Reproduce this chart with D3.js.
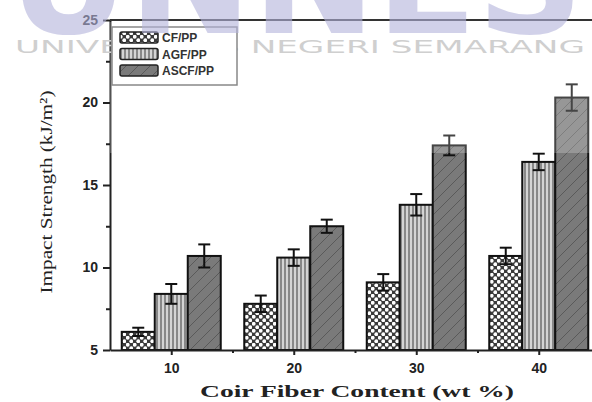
<!DOCTYPE html>
<html>
<head>
<meta charset="utf-8">
<script src="https://cdn.jsdelivr.net/npm/d3@7"></script>
<style>
  body { margin: 0; background: #fff; }
  svg { display: block; }
</style>
</head>
<body>
<svg id="chart" width="592" height="402"></svg>
<script>
// data
const contents = [10, 20, 30, 40];
const seriesNames = ['CF/PP', 'AGF/PP', 'ASCF/PP'];
const cfValues = [6.1, 7.8, 9.1, 10.7];
const cfErrors = [0.25, 0.5, 0.5, 0.5];
const agfValues = [8.4, 10.6, 13.8, 16.4];
const agfErrors = [0.6, 0.5, 0.65, 0.5];
const ascfValues = [10.7, 12.5, 17.4, 20.3];
const ascfErrors = [0.7, 0.4, 0.6, 0.8];
const yTicks = [5, 10, 15, 20, 25];
const yMinorTicks = [7.5, 12.5, 17.5, 22.5];
const xTicks = [10, 20, 30, 40];
const xMinorTicks = [15, 25, 35];

const series = [
  { name: seriesNames[0], values: cfValues, errors: cfErrors, fill: 'url(#pCF)' },
  { name: seriesNames[1], values: agfValues, errors: agfErrors, fill: 'url(#pAGF)' },
  { name: seriesNames[2], values: ascfValues, errors: ascfErrors, fill: 'url(#pASCF)' }
];

const svg = d3.select('#chart');
const defs = svg.append('defs');

// patronen voor de staven
const pCF = defs.append('pattern').attr('id', 'pCF').attr('patternUnits', 'userSpaceOnUse')
  .attr('width', 7).attr('height', 7);
pCF.append('rect').attr('width', 7).attr('height', 7).attr('fill', '#3a3a3a');
pCF.append('circle').attr('cx', 1.75).attr('cy', 1.75).attr('r', 1.9).attr('fill', '#fff');
pCF.append('circle').attr('cx', 5.25).attr('cy', 5.25).attr('r', 1.9).attr('fill', '#fff');

const pAGF = defs.append('pattern').attr('id', 'pAGF').attr('patternUnits', 'userSpaceOnUse')
  .attr('width', 4).attr('height', 4);
pAGF.append('rect').attr('width', 4).attr('height', 4).attr('fill', '#d4d4d4');
pAGF.append('line').attr('x1', 1).attr('x2', 1).attr('y1', 0).attr('y2', 4)
  .attr('stroke', '#555').attr('stroke-width', 1.2);

const pASCF = defs.append('pattern').attr('id', 'pASCF').attr('patternUnits', 'userSpaceOnUse')
  .attr('width', 12).attr('height', 12);
pASCF.append('rect').attr('width', 12).attr('height', 12).attr('fill', '#7a7a7a');
pASCF.append('path').attr('d', 'M0,12 L12,0 M-3,3 L3,-3 M9,15 L15,9')
  .attr('stroke', '#5a5a5a').attr('stroke-width', 1);

const x = d3.scaleLinear().domain([5, 45]).range([110, 600]);
const y = d3.scaleLinear().domain([5, 25]).range([350, 20]);
const barW = 33;

// staven
const g = svg.append('g');
series.forEach((s, i) => {
  const off = (i - 1) * barW;
  g.selectAll('.bar' + i)
    .data(contents)
    .join('rect')
    .attr('x', (d) => x(d) + off - barW / 2)
    .attr('y', (d, j) => y(s.values[j]))
    .attr('width', barW)
    .attr('height', (d, j) => y(5) - y(s.values[j]))
    .attr('fill', s.fill)
    .attr('stroke', '#111')
    .attr('stroke-width', 2);

  // foutbalken
  contents.forEach((c, j) => {
    const cx = x(c) + off;
    const lo = y(s.values[j] - s.errors[j]);
    const hi = y(s.values[j] + s.errors[j]);
    g.append('line').attr('x1', cx).attr('x2', cx).attr('y1', lo).attr('y2', hi)
      .attr('stroke', '#111').attr('stroke-width', 2);
    [lo, hi].forEach((yy) => {
      g.append('line').attr('x1', cx - 6).attr('x2', cx + 6).attr('y1', yy).attr('y2', yy)
        .attr('stroke', '#111').attr('stroke-width', 2);
    });
  });
});

// assen
svg.append('g').attr('transform', 'translate(110,0)')
  .call(d3.axisLeft(y).tickValues(yTicks).tickSize(7).tickSizeOuter(0).tickPadding(5));
svg.append('g').attr('transform', 'translate(110,0)')
  .call(d3.axisLeft(y).tickValues(yMinorTicks).tickSize(4).tickFormat(''))
  .select('.domain').remove();
svg.append('g').attr('transform', 'translate(0,350)')
  .call(d3.axisBottom(x).tickValues(xTicks).tickSize(5).tickSizeOuter(0).tickPadding(8))
  .selectAll('.tick text').attr('class', 'xlab');
svg.append('g').attr('transform', 'translate(0,350)')
  .call(d3.axisBottom(x).tickValues(xMinorTicks).tickSize(3).tickFormat(''))
  .select('.domain').remove();

svg.selectAll('.domain, .tick line').attr('stroke', '#222').attr('stroke-width', 2);
svg.selectAll('.tick text')
  .style('font-family', 'Liberation Sans, Arial, sans-serif')
  .style('font-weight', 'bold').style('font-size', '14px').attr('fill', '#222');

// bovenrand
svg.append('line').attr('x1', 110).attr('x2', 592).attr('y1', y(25)).attr('y2', y(25))
  .attr('stroke', '#333').attr('stroke-width', 2);

// astitels
svg.append('text')
  .attr('transform', 'translate(52,192) rotate(-90)')
  .attr('text-anchor', 'middle')
  .attr('textLength', 203).attr('lengthAdjust', 'spacingAndGlyphs')
  .style('font-family', 'Liberation Serif, Times New Roman, serif')
  .style('font-size', '17px').attr('fill', '#222')
  .text('Impact Strength (kJ/m²)');

svg.append('text')
  .attr('x', 357).attr('y', 397)
  .attr('text-anchor', 'middle')
  .attr('textLength', 314).attr('lengthAdjust', 'spacingAndGlyphs')
  .style('font-family', 'Liberation Serif, Times New Roman, serif')
  .style('font-weight', 'bold').style('font-size', '17px').attr('fill', '#222')
  .text('Coir Fiber Content (wt %)');

// vervaagde band bovenaan de scan
svg.append('rect').attr('x', 110).attr('y', 22).attr('width', 482).attr('height', 131)
  .attr('fill', '#fff').attr('opacity', 0.22);

// watermerk tekst (achter de legenda)
svg.append('text')
  .attr('x', 300).attr('y', 53)
  .attr('text-anchor', 'middle')
  .attr('textLength', 570).attr('lengthAdjust', 'spacingAndGlyphs')
  .style('font-family', 'DejaVu Sans, sans-serif')
  .style('font-size', '18px').attr('fill', '#cfcfcf')
  .text('UNIVERSITAS NEGERI SEMARANG');

// legenda
const legend = svg.append('g');
legend.append('rect').attr('x', 112).attr('y', 27).attr('width', 125).attr('height', 58)
  .attr('fill', '#fff').attr('stroke', '#888').attr('stroke-width', 1.5);
series.forEach((s, i) => {
  const ly = 32 + i * 16.5;
  legend.append('rect').attr('x', 120).attr('y', ly).attr('width', 38).attr('height', 11)
    .attr('rx', 2).attr('fill', s.fill).attr('stroke', '#222').attr('stroke-width', 1.5);
  legend.append('text').attr('x', 162).attr('y', ly + 10)
    .style('font-family', 'Liberation Sans, Arial, sans-serif')
    .style('font-weight', 'bold').style('font-size', '12px').attr('fill', '#333')
    .text(s.name);
});

// watermerk logo, bovenaan afgesneden
svg.append('text')
  .attr('x', 296).attr('y', 33)
  .attr('text-anchor', 'middle')
  .attr('textLength', 575).attr('lengthAdjust', 'spacingAndGlyphs')
  .style('font-family', 'DejaVu Sans, sans-serif').style('font-weight', 'bold')
  .style('font-size', '150px').attr('fill', '#b4b4dc').attr('opacity', 0.6)
  .text('UNNES');
</script>
</body>
</html>
